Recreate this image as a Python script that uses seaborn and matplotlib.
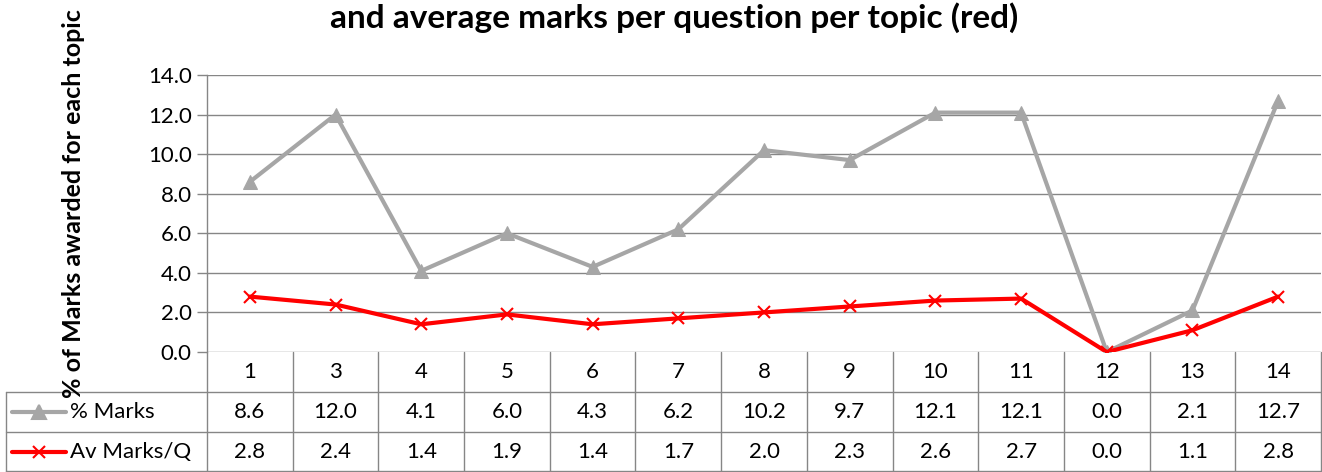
import matplotlib
matplotlib.use('Agg')
import matplotlib.pyplot as plt
import seaborn as sns
import pandas as pd

topics = ['1', '3', '4', '5', '6', '7', '8', '9', '10', '11', '12', '13', '14']
pct_marks = [8.6, 12.0, 4.1, 6.0, 4.3, 6.2, 10.2, 9.7, 12.1, 12.1, 0.0, 2.1, 12.7]
av_marks = [2.8, 2.4, 1.4, 1.9, 1.4, 1.7, 2.0, 2.3, 2.6, 2.7, 0.0, 1.1, 2.8]
series_names = ['% Marks', 'Av Marks/Q']
yticks = [0.0, 2.0, 4.0, 6.0, 8.0, 10.0, 12.0, 14.0]
title = 'and average marks per question per topic (red)'
ylabel = '% of Marks awarded for each topic'

GRAY = '#A6A6A6'
RED = '#FF0000'
LINE = '#868686'

sns.set_theme(style='white')
plt.rcParams['font.family'] = ['Lato', 'DejaVu Sans']

W, H = 1322, 472
fig = plt.figure(figsize=(W / 100, H / 100), dpi=100)
ax_left, ax_right, ax_top, ax_bot = 207, 1321, 75, 352
ax = fig.add_axes([ax_left / W, (H - ax_bot) / H, (ax_right - ax_left) / W, (ax_bot - ax_top) / H])

df1 = pd.DataFrame({'Topic': topics, 'Value': pct_marks})
df2 = pd.DataFrame({'Topic': topics, 'Value': av_marks})
sns.lineplot(data=df1, x='Topic', y='Value', ax=ax, sort=False, color=GRAY, lw=3,
             marker='^', markersize=10, markeredgecolor=GRAY, markerfacecolor=GRAY, zorder=3)
sns.lineplot(data=df2, x='Topic', y='Value', ax=ax, sort=False, color=RED, lw=3,
             marker='x', markersize=9, markeredgewidth=1.5, markeredgecolor=RED, zorder=4)

n = len(topics)
ax.set_xlim(-0.5, n - 0.5)
ax.set_ylim(0, 14)
ax.set_yticks(yticks)
ax.set_yticklabels([f'{v:.1f}' for v in yticks], fontsize=16, color='black')
ax.set_xticks([])
ax.set_xlabel('')
ax.set_ylabel('')
ax.grid(axis='y', color=LINE, lw=1)
ax.grid(axis='x', visible=False)
for s in ['top', 'right', 'bottom']:
    ax.spines[s].set_visible(False)
ax.spines['left'].set_color(LINE)
ax.spines['left'].set_linewidth(1)
ax.tick_params(axis='y', length=7, color=LINE, width=1, pad=4, left=True)

# data table under the plot
ph = ax_bot - ax_top
pw = ax_right - ax_left
rowh = 40 / ph
xt = ax.get_xaxis_transform()
kw = dict(color=LINE, lw=1, clip_on=False)
left_edge = (6 - ax_left) / pw
for k in range(n + 1):
    ax.plot([k - 0.5, k - 0.5], [0, -3 * rowh], transform=xt, **kw)
ax.plot([left_edge, 1], [-rowh, -rowh], transform=ax.transAxes, **kw)
ax.plot([left_edge, 1], [-2 * rowh, -2 * rowh], transform=ax.transAxes, **kw)
ax.plot([left_edge, 1], [-3 * rowh + 0.002, -3 * rowh + 0.002], transform=ax.transAxes, **kw)
ax.plot([left_edge, left_edge], [-rowh, -3 * rowh], transform=ax.transAxes, **kw)

for i, t in enumerate(topics):
    ax.text(i, -0.5 * rowh, t, transform=xt, ha='center', va='center', fontsize=16, color='black')
    ax.text(i, -1.5 * rowh, f'{pct_marks[i]:.1f}', transform=xt, ha='center', va='center', fontsize=16, color='black')
    ax.text(i, -2.5 * rowh, f'{av_marks[i]:.1f}', transform=xt, ha='center', va='center', fontsize=16, color='black')

# legend keys in table
k0 = (12 - ax_left) / pw
k1 = (66 - ax_left) / pw
km = (39 - ax_left) / pw
kt = (70 - ax_left) / pw
for r, (name, col, mk) in enumerate(zip(series_names, [GRAY, RED], ['^', 'x'])):
    yy = -(1.5 + r) * rowh
    ax.plot([k0, k1], [yy, yy], transform=ax.transAxes, color=col, lw=3, clip_on=False)
    ax.plot([km], [yy], transform=ax.transAxes, color=col, marker=mk, markersize=10 if mk == '^' else 9,
            markeredgewidth=1.5, clip_on=False)
    ax.text(kt, yy, name, transform=ax.transAxes, ha='left', va='center', fontsize=16, color='black')

fig.text(674 / W, 1 - 28 / H, title, ha='center', va='baseline', fontsize=24, weight='bold', color='black')
fig.text(74 / W, 1 - ((14 + 393) / 2) / H, ylabel, rotation=90, ha='center', va='center',
         fontsize=18, weight='bold', color='black')

fig.savefig('out.png', dpi=100)
